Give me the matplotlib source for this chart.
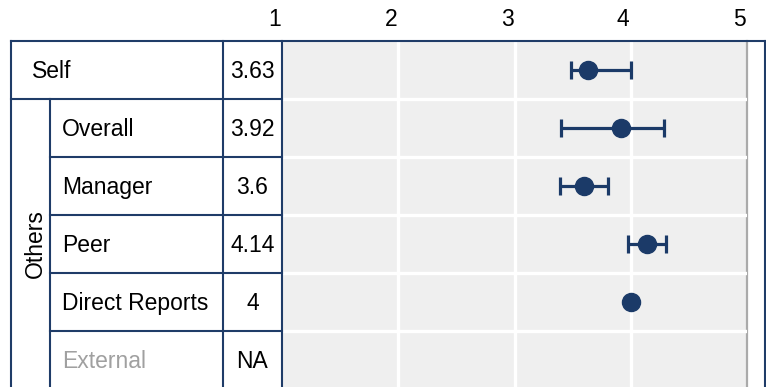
import matplotlib
matplotlib.use("Agg")
import matplotlib.pyplot as plt
import matplotlib.transforms as mtransforms
import numpy as np

# ---------------- data ----------------
rows = ["Self", "Overall", "Manager", "Peer", "Direct Reports", "External"]
groups = [None, "Others", "Others", "Others", "Others", "Others"]
value_text = ["3.63", "3.92", "3.6", "4.14", "4", "NA"]
means = [3.63, 3.92, 3.60, 4.14, 4.00, np.nan]
lower = [3.49, 3.40, 3.39, 3.98, np.nan, np.nan]
upper = [4.00, 4.29, 3.80, 4.30, np.nan, np.nan]
x_ticks = [1, 2, 3, 4, 5]
x_ticklabels = ["1", "2", "3", "4", "5"]

# ---------------- style ----------------
W, H = 766, 387
DPI = 100
NAVY = "#1b3a68"
BORDER = "#1f3c68"
PANEL = "#efefef"
FONT = "Liberation Sans"
FS = 16.5
plt.rcParams["font.family"] = [FONT, "DejaVu Sans"]

TOP = 41          # px, top of table
ROW_H = 58        # px per row
X_OUT_L, X_GRP, X_VAL, X_PAN, X_PAN_R, X_OUT_R = 11, 50, 223, 282, 747, 765
n_rows_visible = (H - TOP) / ROW_H
CAP_SHIFT = 8.2 / ROW_H   # baseline offset so cap height is centred in row

fig = plt.figure(figsize=(W / DPI, H / DPI), dpi=DPI)
fig.patch.set_facecolor("white")

# plot panel
ax = fig.add_axes([X_PAN / W, 0, (X_PAN_R - X_PAN) / W, (H - TOP) / H])
ax.set_facecolor(PANEL)
ax.set_xlim(1, 5)
ax.set_ylim(n_rows_visible, 0)
for s in ax.spines.values():
    s.set_visible(False)
ax.axvline(5, color="#aaaaaa", lw=1.6, zorder=1, clip_on=False)

for xv in [2, 3, 4]:
    ax.axvline(xv, color="white", lw=2.4, zorder=1)
for i in range(1, len(rows)):
    ax.axhline(i, color="white", lw=2.4, zorder=1)

ypos = np.arange(len(rows)) + 0.5
m = np.array(means)
lo = np.array(lower)
hi = np.array(upper)
has_err = ~np.isnan(lo)
ax.errorbar(m[has_err], ypos[has_err],
            xerr=[m[has_err] - lo[has_err], hi[has_err] - m[has_err]],
            fmt="none", ecolor=NAVY, elinewidth=2.3, capsize=6.5, capthick=2.3, zorder=3)
ax.plot(m, ypos, "o", color=NAVY, markersize=13, zorder=4, linestyle="none")

ax.xaxis.tick_top()
ax.set_xticks(x_ticks)
ax.set_xticklabels(x_ticklabels, fontsize=FS, color="black")
ax.tick_params(axis="x", length=0, pad=7)
ax.set_yticks([])
off = mtransforms.ScaledTranslation(-7.5 / DPI, 0, fig.dpi_scale_trans)
for lab in ax.get_xticklabels():
    lab.set_transform(lab.get_transform() + off)

# overlay for the table frame & text (x in pixels, y in row units)
ov = fig.add_axes([0, 0, 1, 1], zorder=5)
ov.set_xlim(0, W)
ov.set_ylim(n_rows_visible, -TOP / ROW_H)
ov.axis("off")
ov.patch.set_alpha(0)

lw = 1.5
bottom = n_rows_visible + 0.1
ov.plot([X_OUT_L, X_OUT_R], [0, 0], color=BORDER, lw=lw, solid_capstyle="projecting")
for xv in [X_OUT_L, X_VAL, X_PAN, X_OUT_R]:
    ov.plot([xv, xv], [0, bottom], color=BORDER, lw=lw)
ov.plot([X_GRP, X_GRP], [1, bottom], color=BORDER, lw=lw)
ov.plot([X_OUT_L, X_PAN], [1, 1], color=BORDER, lw=lw)
for i in range(2, len(rows)):
    ov.plot([X_GRP, X_PAN], [i, i], color=BORDER, lw=lw)

for i, (name, grp, vt) in enumerate(zip(rows, groups, value_text)):
    x0 = 32 if grp is None else 62
    col = "#a0a0a0" if vt == "NA" else "black"
    ov.text(x0, i + 0.5 + CAP_SHIFT, name, fontsize=FS, color=col, ha="left", va="baseline")
    ov.text((X_VAL + X_PAN) / 2, i + 0.5 + CAP_SHIFT, vt, fontsize=FS, color="black",
            ha="center", va="baseline")

ov.text(35, 1 + (len(rows) - 1) / 2, "Others", fontsize=FS,
        rotation=90, ha="center", va="center", color="black")

fig.savefig("out.png", dpi=DPI, facecolor="white")
